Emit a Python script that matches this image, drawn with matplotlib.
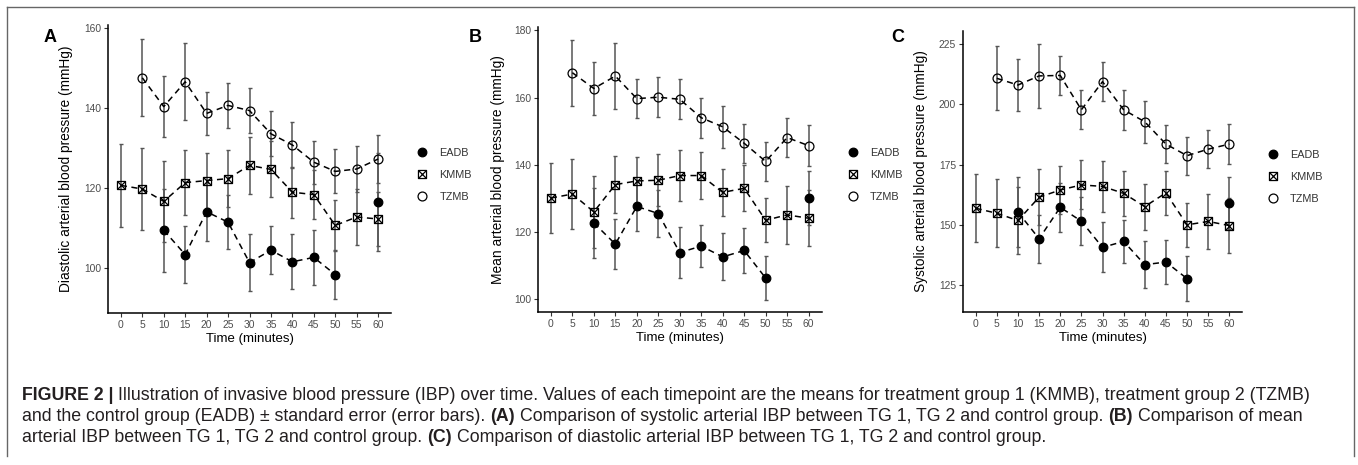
import numpy as np
import matplotlib
matplotlib.use('Agg')
import matplotlib.pyplot as plt
from matplotlib.path import Path
from matplotlib.lines import Line2D

plt.rcParams['font.family'] = ['Liberation Sans', 'DejaVu Sans']

#%% data
nan = np.nan
time = [0, 5, 10, 15, 20, 25, 30, 35, 40, 45, 50, 55, 60]
groups = ['EADB', 'KMMB', 'TZMB']

# A: diastolic
dia_eadb = [nan, nan, 109.4, 103.3, 114.0, 111.4, 101.3, 104.4, 101.5, 102.6, 98.3, nan, 116.4]
dia_eadb_se = [nan, nan, 10.4, 7.2, 7.2, 6.8, 7.2, 6.0, 6.9, 6.8, 6.1, nan, 12.3]
dia_kmmb = [120.6, 119.7, 116.6, 121.3, 121.8, 122.3, 125.6, 124.6, 118.9, 118.3, 110.6, 112.7, 112.2]
dia_kmmb_se = [10.3, 10.2, 10.2, 8.2, 6.8, 7.2, 7.2, 7.0, 6.4, 6.2, 6.3, 7.1, 6.8]
dia_tzmb = [nan, 147.5, 140.3, 146.5, 138.6, 140.6, 139.3, 133.5, 130.7, 126.4, 124.1, 124.7, 127.2]
dia_tzmb_se = [nan, 9.6, 7.6, 9.6, 5.4, 5.7, 5.7, 5.6, 5.7, 5.4, 5.5, 5.8, 6.0]

# B: mean
map_eadb = [nan, nan, 122.7, 116.4, 127.6, 125.5, 113.9, 115.8, 112.6, 114.5, 106.3, nan, 130.2]
map_eadb_se = [nan, nan, 10.5, 7.4, 7.3, 7.0, 7.5, 6.2, 7.0, 6.7, 6.6, nan, 8.0]
map_kmmb = [130.1, 131.3, 126.0, 134.1, 135.2, 135.4, 136.8, 136.8, 131.8, 133.0, 123.5, 125.1, 124.1]
map_kmmb_se = [10.5, 10.5, 10.8, 8.4, 7.2, 7.8, 7.7, 7.0, 7.0, 6.8, 6.6, 8.6, 8.3]
map_tzmb = [nan, 167.4, 162.7, 166.4, 159.7, 160.1, 159.5, 154.0, 151.3, 146.4, 141.0, 148.1, 145.7]
map_tzmb_se = [nan, 9.8, 7.9, 9.8, 5.7, 6.0, 6.0, 6.0, 6.3, 5.8, 5.8, 5.9, 6.0]

# C: systolic
sys_eadb = [nan, nan, 155.2, 144.1, 157.2, 151.4, 140.5, 143.0, 133.3, 134.4, 127.5, nan, 159.0]
sys_eadb_se = [nan, nan, 14.5, 10.0, 10.3, 10.0, 10.4, 9.0, 9.7, 9.3, 9.3, nan, 11.0]
sys_kmmb = [156.8, 154.7, 151.7, 161.4, 164.4, 166.5, 165.9, 163.0, 157.5, 163.2, 149.9, 151.3, 149.6]
sys_kmmb_se = [14.2, 14.2, 14.0, 11.6, 9.8, 10.2, 10.5, 9.5, 9.6, 9.1, 9.1, 11.4, 11.6]
sys_tzmb = [nan, 210.9, 208.1, 211.9, 212.1, 197.8, 209.5, 197.8, 192.8, 183.5, 178.7, 181.4, 183.5]
sys_tzmb_se = [nan, 13.3, 10.7, 13.3, 8.0, 8.2, 8.2, 8.3, 8.8, 8.0, 7.9, 8.0, 8.4]

panel_letters = ['A', 'B', 'C']
ylabels = ['Diastolic arterial blood pressure (mmHg)',
           'Mean arterial blood pressure (mmHg)',
           'Systolic arterial blood pressure (mmHg)']
yticks = [[100, 120, 140, 160], [100, 120, 140, 160, 180], [125, 150, 175, 200, 225]]
ylims = [(88.7, 160.7), (96.2, 181.0), (113.6, 230.6)]

panels = [
    [(dia_eadb, dia_eadb_se), (dia_kmmb, dia_kmmb_se), (dia_tzmb, dia_tzmb_se)],
    [(map_eadb, map_eadb_se), (map_kmmb, map_kmmb_se), (map_tzmb, map_tzmb_se)],
    [(sys_eadb, sys_eadb_se), (sys_kmmb, sys_kmmb_se), (sys_tzmb, sys_tzmb_se)],
]

#%% markers: filled circle, boxed X, open circle
boxx = Path([(-1, -1), (1, -1), (1, 1), (-1, 1), (-1, -1),
             (-1, -1), (1, 1), (-1, 1), (1, -1)],
            [Path.MOVETO, Path.LINETO, Path.LINETO, Path.LINETO, Path.CLOSEPOLY,
             Path.MOVETO, Path.LINETO, Path.MOVETO, Path.LINETO])
styles = [dict(marker='o', mfc='black', ms=6.2),
          dict(marker=boxx, mfc='none', ms=5.8),
          dict(marker='o', mfc='none', ms=6.4)]

W, H = 1358, 465
fig = plt.figure(figsize=(W / 100, H / 100), dpi=100)

# axes boxes in pixels: left, right, top, bottom
boxes = [(108, 391, 25, 313), (538, 821.5, 27, 312), (963, 1242, 31, 312)]
ylab_x = [73, 505, 928]
letter_x = [50, 475, 898]
grey = '#4d4d4d'

for i, (l, r, t, b) in enumerate(boxes):
    ax = fig.add_axes([l / W, 1 - b / H, (r - l) / W, (b - t) / H])
    for (vals, se), st, g in zip(panels[i], styles, groups):
        ax.errorbar(time, vals, yerr=se, fmt='none', ecolor='#555555',
                    elinewidth=1.1, capsize=1.2, capthick=1.0, zorder=2)
        ax.plot(time, vals, color='black', ls=(0, (4, 3)), lw=1.1,
                mec='black', mew=0.9, zorder=3, label=g, **st)

    ax.set_xlim(-3, 63)
    ax.set_ylim(*ylims[i])
    ax.set_xticks(time)
    ax.set_yticks(yticks[i])
    for s in ['top', 'right']:
        ax.spines[s].set_visible(False)
    for s in ['left', 'bottom']:
        ax.spines[s].set_linewidth(1.1)
        ax.spines[s].set_color('black')
    ax.tick_params(length=3, width=0.8, color='#333333', labelsize=7.4,
                   labelcolor=grey, pad=2)
    ax.set_xlabel('Time (minutes)', fontsize=9.5, labelpad=2)
    ax.set_ylabel(ylabels[i], fontsize=9.9)
    ax.yaxis.set_label_coords((ylab_x[i] - l) / (r - l), 0.5)

    leg = ax.legend(handles=[Line2D([], [], ls='none', color='black', mec='black',
                                    mew=0.9, **st) for st in styles],
                    labels=groups, loc='center left',
                    bbox_to_anchor=(1.075, 0.48), frameon=False, fontsize=7.8,
                    handlelength=1.0, handletextpad=1.1, labelspacing=1.1,
                    borderaxespad=0.0)
    for txt in leg.get_texts():
        txt.set_color('#333333')

    fig.text(letter_x[i] / W, 1 - 37 / H, panel_letters[i], fontsize=13,
             fontweight='bold', ha='center', va='center')

#%% border lines
for xs, ys in [([7, 7], [7, 456]), ([7, 1354], [7, 7]), ([1354, 1354], [7, 456])]:
    fig.add_artist(Line2D([x / W for x in xs], [1 - y / H for y in ys],
                          color='#666666', lw=1.0))

#%% caption with bold parts
cap_fs = 12.8
cap_col = '#231f20'
space = 0.278 * cap_fs
anchor_ax = fig.axes[0]
lines = [
    [('FIGURE 2 |', True),
     ('Illustration of invasive blood pressure (IBP) over time. Values of each timepoint are the means for treatment group 1 (KMMB), treatment group 2 (TZMB)', False)],
    [('and the control group (EADB) \u00b1 standard error (error bars).', False), ('(A)', True),
     ('Comparison of systolic arterial IBP between TG 1, TG 2 and control group.', False),
     ('(B)', True), ('Comparison of mean', False)],
    [('arterial IBP between TG 1, TG 2 and control group.', False), ('(C)', True),
     ('Comparison of diastolic arterial IBP between TG 1, TG 2 and control group.', False)],
]
line_y = [404, 425, 446]
for parts, yb in zip(lines, line_y):
    prev = None
    for txt, bold in parts:
        kw = dict(fontsize=cap_fs, color=cap_col, fontweight='bold' if bold else 'normal',
                  va='bottom', ha='left', annotation_clip=False)
        if prev is None:
            prev = anchor_ax.annotate(txt, xy=(22 / W, 1 - yb / H), xycoords='figure fraction', **kw)
        else:
            prev = anchor_ax.annotate(txt, xy=(1, 0), xycoords=prev, xytext=(space, 0),
                                      textcoords='offset points', **kw)

fig.savefig('out.png', dpi=100)
